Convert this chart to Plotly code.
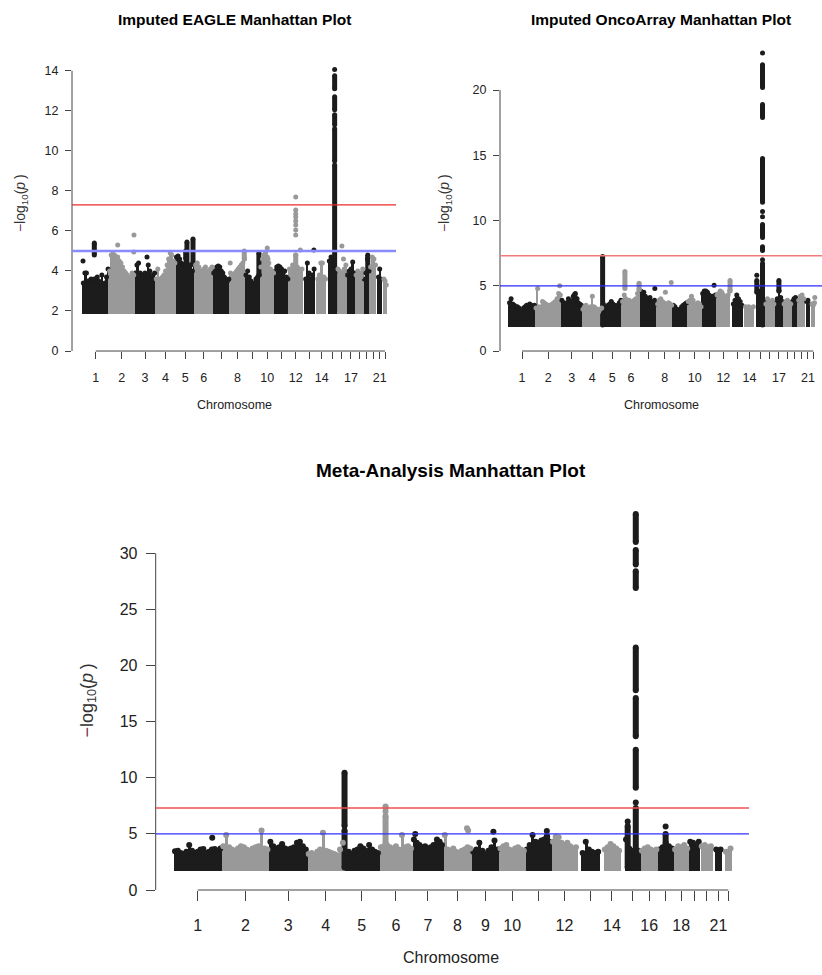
import plotly.graph_objects as go

# ---------------- chromosome layout (Mb, hg19-like) ----------------
CHROMS = list(range(1, 23))
CHR_START = [0.7, 0.0, 0.1, 0.1, 0.0, 0.2, 0.1, 0.2, 0.2, 0.1, 0.2, 0.2,
             19.0, 19.0, 20.0, 0.1, 0.0, 0.0, 0.3, 0.1, 14.0, 16.0]
CHR_END = [249.2, 243.2, 198.0, 191.0, 180.9, 171.1, 159.1, 146.3, 141.1, 135.5, 135.0, 133.9,
           115.1, 107.3, 102.5, 90.3, 81.2, 78.0, 59.1, 63.0, 48.1, 51.2]

TICK_TEXT_TOP = ["1", "2", "3", "4", "5", "6", "", "8", "", "10", "", "12", "", "14",
                 "", "", "17", "", "", "", "21", ""]
TICK_TEXT_META = ["1", "2", "3", "4", "5", "6", "7", "8", "9", "10", "", "12", "", "14",
                  "", "16", "", "18", "", "", "21", ""]

GW_LINE = 7.30   # genome-wide significance  -log10(5e-8)
SUG_LINE = 5.0   # suggestive line

# ---------------- Imputed EAGLE ----------------
# column tops of the dense point band, per chromosome (evenly spread along the chromosome)
EAGLE_BAND = [
    [3.4, 3.9, 3.9, 3.5, 3.5, 3.6, 3.5, 3.6, 3.6, 3.7, 3.5, 3.3, 3.8, 3.3, 3.4, 3.7, 4.1],
    [4.0, 4.8, 4.85, 4.8, 4.6, 4.7, 4.5, 4.4, 4.2, 4.0, 3.9, 3.8, 3.6, 3.7, 3.9, 3.8],
    [3.9, 4.3, 4.4, 3.9, 3.8, 3.8, 3.9, 3.7, 4.3, 4.0, 3.7, 3.8, 3.9],
    [3.6, 4.1, 3.6, 3.5, 3.7, 3.8, 4.0, 4.3, 4.6, 4.9, 4.8, 4.5, 4.4],
    [4.7, 4.75, 4.6, 4.4, 4.3, 4.35, 4.4, 4.3, 4.2, 4.3, 4.0, 4.4],
    [4.3, 4.4, 4.2, 4.0, 3.9, 4.1, 4.2, 4.0, 3.9, 4.1, 4.2],
    [3.9, 4.0, 4.2, 4.25, 4.2, 4.0, 3.9, 3.7, 3.6, 3.5, 3.6],
    [3.9, 3.8, 3.7, 3.9, 4.0, 4.1, 4.2, 4.3, 4.4, 4.6],
    [3.8, 4.0, 3.7, 3.5, 3.3, 3.4, 3.6, 3.7, 3.8],
    [4.2, 4.6, 4.8, 4.9, 4.7, 4.4, 4.1, 4.0, 3.9],
    [4.0, 4.2, 4.25, 4.2, 4.1, 3.9, 4.0, 3.7, 3.6],
    [4.1, 4.0, 4.3, 4.2, 4.8, 4.2, 4.1, 4.0, 4.1],
    [3.6, 4.4, 3.9, 3.6, 3.8, 4.1],
    [3.6, 3.8, 4.4, 4.4, 3.7, 3.6],
    [4.5, 4.7, 4.6, 4.3, 4.0],
    [4.1, 4.0, 3.9, 3.8, 4.1, 4.3],
    [3.8, 4.0, 4.1, 4.45, 3.9],
    [3.8, 4.0, 3.9, 3.7, 4.1],
    [3.6, 3.9, 4.6, 4.0],
    [4.2, 4.7, 4.6, 4.3],
    [3.7, 4.1, 3.6],
    [3.6, 3.5, 3.3],
]
# (chromosome, position Mb, low, high) dense vertical runs of points
EAGLE_SEGMENTS = [
    (1, 112, 4.8, 5.4), (5, 95, 4.6, 5.0), (5, 107, 4.4, 5.45), (5, 164, 4.4, 5.6),
    (8, 138, 4.6, 5.0), (9, 130, 3.8, 4.9), (12, 67, 4.0, 4.8), (19, 40, 4.0, 4.8),
    (15, 78.8, 2.0, 9.3), (15, 78.8, 9.5, 11.1), (15, 78.8, 11.3, 11.8),
    (15, 78.8, 12.05, 12.7), (15, 78.8, 13.1, 13.75),
]
# (chromosome, position Mb, value) isolated points
EAGLE_DOTS = [
    (1, 5, 4.5), (2, 84, 5.3), (2, 236, 4.95), (2, 238, 5.8), (3, 118, 4.7),
    (8, 5, 4.4), (10, 68, 5.15), (10, 75, 4.6),
    (12, 67, 5.8), (12, 67, 6.05), (12, 67, 6.3), (12, 67, 6.5), (12, 67, 6.7),
    (12, 67, 6.85), (12, 67, 7.05), (12, 67, 7.7), (12, 110, 5.05),
    (13, 105, 5.05), (15, 78.8, 14.07), (16, 45, 5.25), (16, 60, 4.6),
]

# ---------------- Imputed OncoArray ----------------
ONCO_BAND = [
    [3.7, 4.0, 3.6, 3.5, 3.4, 3.4, 3.3, 3.1, 3.0, 3.3, 3.4, 3.5, 3.5, 3.6, 3.5, 3.4, 3.5],
    [3.3, 4.8, 3.4, 3.3, 3.8, 3.7, 3.6, 3.3, 3.5, 3.4, 3.6, 3.7, 3.8, 4.0, 4.4, 4.3],
    [3.9, 3.7, 3.6, 3.7, 4.0, 3.9, 3.8, 4.2, 4.3, 4.0, 3.7, 3.6, 3.5],
    [3.2, 3.4, 3.5, 3.3, 3.2, 3.4, 4.2, 3.4, 3.3, 3.2, 3.0, 3.2, 3.3],
    [3.6, 3.4, 3.3, 3.5, 3.6, 3.8, 3.6, 3.5, 3.4, 3.5, 3.7, 3.9],
    [3.8, 4.3, 4.0, 3.8, 3.9, 3.7, 3.8, 3.9, 4.0, 4.4, 4.7],
    [4.6, 4.4, 4.5, 4.2, 4.0, 3.9, 4.1, 3.8, 3.7, 3.9, 3.6],
    [3.6, 3.9, 4.0, 3.8, 3.7, 3.6, 3.5, 3.7, 3.6, 3.5],
    [3.5, 3.4, 3.2, 3.0, 3.2, 3.4, 3.5, 3.6, 3.7],
    [3.8, 3.9, 4.2, 3.9, 3.6, 3.5, 3.7, 3.6, 3.4],
    [4.4, 4.6, 4.6, 4.5, 4.3, 4.0, 4.2, 4.1, 4.3],
    [4.3, 4.4, 4.6, 4.5, 4.3, 4.1, 4.0, 4.3, 4.6],
    [3.6, 3.9, 4.3, 4.0, 3.8, 3.5],
    [3.4, 3.3, 3.4, 3.2, 3.3, 3.4],
    [5.0, 4.6, 4.5, 4.2, 3.9],
    [3.6, 4.0, 3.8, 3.7, 3.9, 3.6],
    [3.7, 4.0, 4.6, 4.1, 3.8],
    [3.6, 3.8, 3.9, 3.7, 3.6],
    [3.8, 4.0, 4.1, 3.9],
    [3.9, 4.2, 4.3, 4.0],
    [3.8, 3.9, 3.6],
    [3.6, 3.5, 3.7],
]
ONCO_SEGMENTS = [
    (5, 1.3, 2.0, 7.25), (6, 30, 4.8, 6.1), (6, 163, 4.7, 5.2), (12, 130, 4.6, 5.4),
    (15, 25, 4.5, 5.4), (17, 40, 4.6, 5.4),
    (15, 78.8, 2.0, 6.7), (15, 78.8, 7.7, 8.0), (15, 78.8, 8.7, 9.7),
    (15, 78.8, 11.4, 14.75), (15, 78.8, 17.9, 18.9), (15, 78.8, 20.2, 21.95),
]
ONCO_DOTS = [
    (2, 230, 5.0), (3, 128, 4.35), (3, 134, 4.4), (3, 150, 4.0), (7, 140, 4.8),
    (8, 80, 4.5), (8, 135, 5.25), (11, 115, 5.05), (15, 25, 5.8), (22, 48, 4.1),
    (15, 78.8, 7.0), (15, 78.8, 10.3), (15, 78.8, 10.7), (15, 78.8, 22.85),
]

# ---------------- Meta-analysis ----------------
META_BAND = [
    [3.45, 3.5, 3.3, 3.2, 3.4, 4.0, 3.5, 3.3, 3.4, 3.6, 3.65, 3.3, 3.4, 3.6, 3.65, 3.5, 3.7],
    [3.9, 4.9, 3.8, 3.6, 3.5, 3.7, 3.9, 3.8, 3.6, 3.5, 3.7, 3.8, 3.9, 5.3, 3.7, 3.6],
    [4.3, 3.9, 3.7, 3.8, 4.0, 3.7, 3.6, 3.7, 3.8, 4.2, 4.3, 3.9, 3.6],
    [3.2, 3.3, 3.1, 3.4, 3.6, 5.1, 3.5, 3.4, 3.3, 3.2, 3.1, 3.6, 4.2],
    [3.3, 3.4, 3.2, 3.5, 3.6, 3.9, 3.7, 3.5, 4.0, 3.6, 3.4, 3.3],
    [3.8, 3.9, 4.0, 3.8, 3.7, 3.9, 3.6, 4.9, 3.8, 3.9, 3.7],
    [4.5, 4.2, 4.0, 3.8, 3.9, 3.7, 3.8, 4.0, 4.1, 4.3, 4.0],
    [4.9, 3.6, 3.5, 3.7, 3.4, 3.3, 3.5, 3.6, 3.8, 3.7],
    [3.4, 3.6, 4.2, 3.5, 3.2, 3.5, 3.8, 4.4, 3.6],
    [3.7, 3.9, 4.0, 3.6, 3.5, 3.7, 3.8, 3.6, 3.5],
    [3.6, 4.0, 4.9, 4.3, 4.2, 4.4, 4.5, 4.8, 4.3],
    [4.3, 4.5, 4.7, 4.2, 4.0, 4.2, 3.9, 3.7, 3.8],
    [3.3, 4.3, 3.6, 3.4, 3.3, 3.4],
    [3.6, 3.8, 4.1, 3.9, 3.7, 3.5],
    [4.5, 3.7, 3.5, 3.6, 3.5],
    [3.5, 3.7, 3.8, 3.6, 3.5, 3.6],
    [3.6, 3.8, 4.2, 3.9, 3.7],
    [3.6, 3.9, 3.8, 4.0, 3.7],
    [4.3, 4.2, 3.9, 4.3],
    [3.9, 4.0, 3.8, 3.9],
    [3.6, 3.5, 3.6],
    [3.4, 3.3, 3.7],
]
META_SEGMENTS = [
    (5, 1.3, 2.0, 5.3), (5, 1.3, 5.7, 10.45), (6, 32, 2.0, 6.6), (15, 37, 2.0, 5.7),
    (17, 40, 2.0, 5.0), (11, 111, 4.5, 4.8),
    (15, 78.8, 2.0, 7.3), (15, 78.8, 9.1, 12.5), (15, 78.8, 13.7, 17.1),
    (15, 78.8, 17.8, 21.6), (15, 78.8, 26.9, 28.4), (15, 78.8, 29.0, 30.3),
    (15, 78.8, 31.0, 33.5),
]
META_DOTS = [
    (1, 200, 4.65), (3, 68, 4.1), (6, 32, 7.0), (6, 32, 7.3), (6, 32, 7.45),
    (7, 14, 5.0), (7, 126, 4.5), (7, 140, 4.3), (8, 122, 5.5), (8, 128, 5.3),
    (9, 112, 5.2), (11, 111, 5.25), (12, 22, 4.75), (15, 37, 6.1), (17, 40, 5.65),
    (15, 78.8, 7.8),
]

# ---------------- styling ----------------
DARK = "#1c1c1c"
GREY = "#999999"
AXIS_COL = "#444444"
FONT = "Liberation Sans, Arial, sans-serif"
W, H = 822, 975

offsets = []
acc = 0.0
for e in CHR_END:
    offsets.append(acc)
    acc += e
centers = [offsets[i] + (CHR_START[i] + CHR_END[i]) / 2 for i in range(22)]

panels = [
    dict(name="Imputed EAGLE Manhattan Plot", band=EAGLE_BAND, segs=EAGLE_SEGMENTS, dots=EAGLE_DOTS,
         xd=[72, 396], xr=[-99.2, 2966], yd=[354.3, 55.3], yr=[0, 14.8], yt=list(range(0, 15, 2)),
         ticktext=TICK_TEXT_TOP, title_xy=(234, 20), title_size=15.5, ytitle_xy=(21, 205),
         xtitle_xy=(234, 409), fs=12.5, ytfs=14, ms=5, ticklen=6, xstand=8, ystand=4,
         red=dict(color="#ee2a2a", width=1.3), blue=dict(color="#8a8aff", width=2.4)),
    dict(name="Imputed OncoArray Manhattan Plot", band=ONCO_BAND, segs=ONCO_SEGMENTS, dots=ONCO_DOTS,
         xd=[500, 822], xr=[-81.8, 2944.5], yd=[354.3, 43.5], yr=[0, 23.6], yt=list(range(0, 21, 5)),
         ticktext=TICK_TEXT_TOP, title_xy=(661, 20), title_size=15.5, ytitle_xy=(445, 205),
         xtitle_xy=(661, 409), fs=12.5, ytfs=14, ms=5, ticklen=6, xstand=8, ystand=4,
         red=dict(color="#f07a7a", width=1.4), blue=dict(color="#2a2aff", width=1.3)),
    dict(name="Meta-Analysis Manhattan Plot", band=META_BAND, segs=META_SEGMENTS, dots=META_DOTS,
         xd=[155.7, 749], xr=[-91.7, 2969.7], yd=[898.3, 509.7], yr=[0, 34.3], yt=list(range(0, 31, 5)),
         ticktext=TICK_TEXT_META, title_xy=(451, 475), title_size=19, ytitle_xy=(88, 707),
         xtitle_xy=(451, 966), fs=16, ytfs=18, ms=6, ticklen=9, xstand=11, ystand=5,
         red=dict(color="#f05050", width=1.4), blue=dict(color="#3030ff", width=1.4)),
]

fig = go.Figure()
shapes = []
annotations = []
layout_axes = {}

for k, p in enumerate(panels):
    sfx = "" if k == 0 else str(k + 1)
    xa, ya = "x" + sfx, "y" + sfx
    pxu = (p["yd"][0] - p["yd"][1]) / (p["yr"][1] - p["yr"][0])
    base = 2.0 - (p["ms"] / 2) / pxu

    for parity, color in ((1, DARK), (0, GREY)):
        bx, by, bw = [], [], []
        for i, tops in enumerate(p["band"]):
            c = i + 1
            if c % 2 != parity:
                continue
            span = CHR_END[i] - CHR_START[i]
            n = len(tops)
            for j, h in enumerate(tops):
                bx.append(offsets[i] + CHR_START[i] + (j + 0.5) * span / n)
                by.append(h)
                bw.append(span / n)
        fig.add_trace(go.Bar(x=bx, y=[h - base for h in by], base=base, width=bw,
                             marker=dict(color=color, line=dict(width=0)),
                             xaxis=xa, yaxis=ya, showlegend=False, hoverinfo="skip"))
        fig.add_trace(go.Scatter(x=bx, y=by, mode="markers",
                                 marker=dict(color=color, size=p["ms"], line=dict(width=0)),
                                 xaxis=xa, yaxis=ya, showlegend=False, hoverinfo="skip"))

        sx, sy = [], []
        ex, ey = [], []
        for (c, pos, lo, hi) in p["segs"]:
            if c % 2 != parity:
                continue
            xv = offsets[c - 1] + pos
            sx += [xv, xv, None]
            sy += [lo, hi, None]
            ex += [xv, xv]
            ey += [lo, hi]
        for (c, pos, v) in p["dots"]:
            if c % 2 != parity:
                continue
            ex.append(offsets[c - 1] + pos)
            ey.append(v)
        if sx:
            fig.add_trace(go.Scatter(x=sx, y=sy, mode="lines",
                                     line=dict(color=color, width=p["ms"]),
                                     xaxis=xa, yaxis=ya, showlegend=False, hoverinfo="skip"))
        if ex:
            fig.add_trace(go.Scatter(x=ex, y=ey, mode="markers",
                                     marker=dict(color=color, size=p["ms"], line=dict(width=0)),
                                     xaxis=xa, yaxis=ya, showlegend=False, hoverinfo="skip"))

    xdom = [p["xd"][0] / W, p["xd"][1] / W]
    ydom = [1 - p["yd"][0] / H, 1 - p["yd"][1] / H]
    layout_axes["xaxis" + sfx] = dict(
        domain=xdom, range=p["xr"], anchor=ya, showgrid=False, zeroline=False, showline=False,
        tickmode="array", tickvals=centers, ticktext=p["ticktext"], ticks="outside",
        ticklen=p["ticklen"] + 1, tickwidth=1, tickcolor=AXIS_COL, ticklabelstandoff=p["xstand"],
        tickfont=dict(family=FONT, size=p["fs"], color="#222222"), fixedrange=True)
    layout_axes["yaxis" + sfx] = dict(
        domain=ydom, range=p["yr"], anchor=xa, showgrid=False, zeroline=False, showline=False,
        tickmode="array", tickvals=p["yt"], ticktext=[str(v) for v in p["yt"]], ticks="outside",
        ticklen=p["ticklen"], tickwidth=1, tickcolor=AXIS_COL, ticklabelstandoff=p["ystand"],
        tickfont=dict(family=FONT, size=p["fs"], color="#222222"), fixedrange=True)

    # axis lines spanning first to last tick (R style)
    shapes.append(dict(type="line", xref=xa, yref=ya + " domain", x0=centers[0], x1=centers[-1],
                       y0=0, y1=0, line=dict(color=AXIS_COL, width=1)))
    shapes.append(dict(type="line", xref=xa + " domain", yref=ya, x0=0, x1=0,
                       y0=p["yt"][0], y1=p["yt"][-1], line=dict(color=AXIS_COL, width=1)))
    # threshold lines
    shapes.append(dict(type="line", xref=xa + " domain", yref=ya, x0=0, x1=1,
                       y0=GW_LINE, y1=GW_LINE, line=p["red"]))
    shapes.append(dict(type="line", xref=xa + " domain", yref=ya, x0=0, x1=1,
                       y0=SUG_LINE, y1=SUG_LINE, line=p["blue"]))

    tx, ty = p["title_xy"]
    annotations.append(dict(text="<b>" + p["name"] + "</b>", x=tx / W, y=1 - ty / H,
                            xref="paper", yref="paper", xanchor="center", yanchor="middle",
                            showarrow=False, font=dict(family=FONT, size=p["title_size"], color="#000000")))
    cx, cy = p["xtitle_xy"]
    annotations.append(dict(text="Chromosome", x=cx / W, y=1 - cy / H, xref="paper", yref="paper",
                            xanchor="center", yanchor="middle", showarrow=False,
                            font=dict(family=FONT, size=p["fs"], color="#222222")))
    yx, yy = p["ytitle_xy"]
    annotations.append(dict(
        text="<span style='color:#7a1f4a'>\u2212</span>log<sub>10</sub>(<i>p</i>\u2009)",
        x=yx / W, y=1 - yy / H, xref="paper", yref="paper", xanchor="center", yanchor="middle",
        textangle=-90, showarrow=False,
        font=dict(family=FONT, size=p["ytfs"], color="#333333")))

fig.update_layout(
    width=W, height=H, margin=dict(l=0, r=0, t=0, b=0),
    paper_bgcolor="white", plot_bgcolor="white",
    barmode="overlay", bargap=0, showlegend=False,
    shapes=shapes, annotations=annotations, **layout_axes)

fig.write_html("out.html")
